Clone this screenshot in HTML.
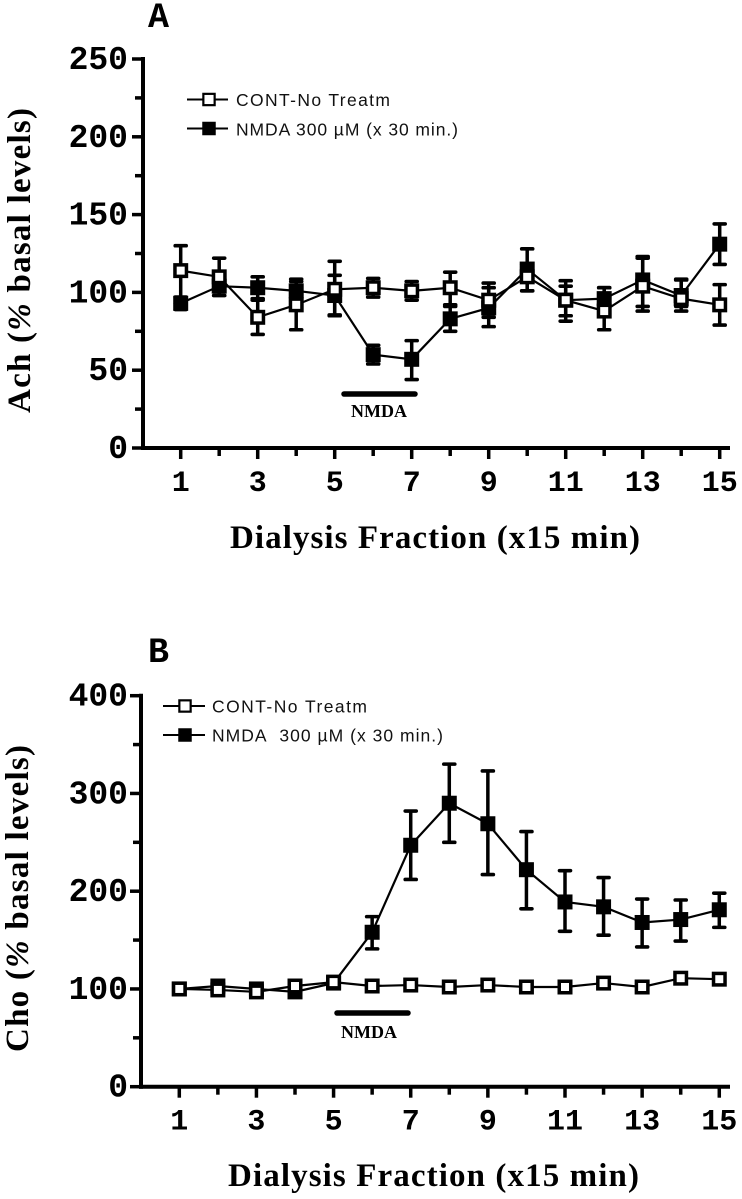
<!DOCTYPE html>
<html>
<head>
<meta charset="utf-8">
<title>Dialysis fraction charts</title>
<style>
html,body{margin:0;padding:0;background:#fff;}
svg{display:block;}
.tick-y{font-family:"Liberation Mono",monospace;font-weight:700;font-size:33px;fill:#000;}
.tick-x{font-family:"Liberation Mono",monospace;font-weight:700;font-size:30px;fill:#000;}
.title{font-family:"Liberation Serif",serif;font-weight:700;font-size:33px;fill:#000;}
.legend{font-family:"Liberation Sans",sans-serif;font-size:17.5px;fill:#111;}
.bar-label{font-family:"Liberation Serif",serif;font-weight:700;font-size:18px;fill:#000;}
.letter{font-family:"Liberation Mono",monospace;font-weight:700;font-size:35px;fill:#000;}
</style>
</head>
<body>
<svg id="figure" xmlns="http://www.w3.org/2000/svg" width="742" height="1199" viewBox="0 0 742 1199">
  <rect width="742" height="1199" fill="#fff"/>
  <text class="letter" x="148" y="27">A</text>
  <text class="title" transform="translate(30,413) rotate(-90)" textLength="305" lengthAdjust="spacing">Ach (<tspan font-style="italic">%</tspan> basal levels)</text>
  <text class="title" x="230" y="548" textLength="410" lengthAdjust="spacing">Dialysis Fraction (x15 min)</text>
  <text class="legend" x="236" y="106" textLength="154" lengthAdjust="spacing">CONT-No Treatm</text>
  <text class="legend" x="236" y="135.5" textLength="222" lengthAdjust="spacing">NMDA 300 µM (x 30 min.)</text>
  <text class="bar-label" x="379" y="417" text-anchor="middle">NMDA</text>

  <text class="letter" x="148" y="662">B</text>
  <text class="title" transform="translate(28,1052) rotate(-90)" textLength="307" lengthAdjust="spacing">Cho (<tspan font-style="italic">%</tspan> basal levels)</text>
  <text class="title" x="228" y="1186" textLength="411" lengthAdjust="spacing">Dialysis Fraction (x15 min)</text>
  <text class="legend" x="212" y="712.5" textLength="155" lengthAdjust="spacing">CONT-No Treatm</text>
  <text class="legend" x="212" y="741.5" textLength="231" lengthAdjust="spacing">NMDA&#160; 300 µM (x 30 min.)</text>
  <text class="bar-label" x="369" y="1038" text-anchor="middle">NMDA</text>
</svg>
<script>
var fractions = [1,2,3,4,5,6,7,8,9,10,11,12,13,14,15];
var xTickLabels = [1,3,5,7,9,11,13,15];

var aYTicks = [0,50,100,150,200,250];
var aYMinorTicks = [25,75,125,175,225];
var aContValues = [114,110,84,92,102,103,101,103,95,110,95,88,104,96,92];
var aContUpper  = [130,122,95,107,120,109,107,113,106,118,107.5,103,123,108.5,105];
var aContLower  = [93,98,73,76,85,97,95,92,84,101,85,76,88,88,79];
var aNmdaValues = [93,104,103,101,98,60,57,83,90,115,95,96,108,98,131];
var aNmdaUpper  = [97,110,110,108.5,111,66,69,91,103,128,104,103,122,108,144];
var aNmdaLower  = [89,98,96,94.5,85.5,54,44,75,78,101,81.5,89,91,91,118];

var bYTicks = [0,100,200,300,400];
var bYMinorTicks = [50,150,250,350];
var bContValues = [100,99,97,103,107,103,104,102,104,102,102,106,102,111,110];
var bNmdaValues = [100,103,100,97,106,158,247,290,269,222,189,184,168,171,181];
var bNmdaUpper  = [100,103,100,97,106,174,282,330,323,261,221,214,192,191,198];
var bNmdaLower  = [100,103,100,97,106,141,212,250,217,182,159,155,143,149,163];

var NS = 'http://www.w3.org/2000/svg';
var svg = document.getElementById('figure');

function make(tag, attrs) {
  var el = document.createElementNS(NS, tag);
  for (var k in attrs) { el.setAttribute(k, attrs[k]); }
  svg.appendChild(el);
  return el;
}

function seg(x1, y1, x2, y2, w, cap) {
  return make('line', {x1:x1, y1:y1, x2:x2, y2:y2, stroke:'#000', 'stroke-width':w, 'stroke-linecap':cap || 'butt'});
}

function marker(cx, cy, hollow, size, border) {
  var r = size / 2;
  if (hollow) {
    return make('rect', {x:cx-r+border/2, y:cy-r+border/2, width:size-border, height:size-border, fill:'#fff', stroke:'#000', 'stroke-width':border});
  }
  return make('rect', {x:cx-r, y:cy-r, width:size, height:size, fill:'#000'});
}

function drawPanel(p) {
  var xScale = function (v) { return p.x1 + (v - 1) * p.xStep; };
  var yScale = function (v) { return p.y0 - v * p.yUnit; };
  var el;

  el = seg(p.axisX, yScale(p.yMax) - 2, p.axisX, p.y0 + 2, 4);
  
  
  el = seg(p.axisX - 2, p.y0, p.xEnd, p.y0, 4);
  
  

  p.yTicks.forEach(function (v) {
    var t = seg(p.axisX - 11, yScale(v), p.axisX, yScale(v), 3.5);
    
    
    var lab = make('text', {x:128, y:yScale(v) + 10, 'text-anchor':'end', 'class':'tick-y'});
    lab.textContent = v;
    
    
  });
  p.yMinor.forEach(function (v) {
    var t = seg(p.axisX - 8, yScale(v), p.axisX, yScale(v), 3.5);
    
    
  });
  fractions.forEach(function (v) {
    var major = xTickLabels.indexOf(v) >= 0;
    var t = seg(xScale(v), p.y0, xScale(v), p.y0 + (major ? 11 : 8), 3.5);
    
    
  });
  xTickLabels.forEach(function (v) {
    var lab = make('text', {x:xScale(v), y:p.y0 + 43, 'text-anchor':'middle', 'class':'tick-x'});
    lab.textContent = v;
    
    
  });

  p.series.forEach(function (s) {
    var pts = s.values.map(function (v, i) { return xScale(fractions[i]) + ',' + yScale(v); }).join(' ');
    var line = make('polyline', {points:pts, fill:'none', stroke:'#000', 'stroke-width':2.2});
    
    
    if (s.upper) {
      s.values.forEach(function (v, i) {
        var x = xScale(fractions[i]);
        var stem = seg(x, yScale(s.upper[i]), x, yScale(s.lower[i]), 3.5);
        
        
        if (s.upper[i] !== s.lower[i]) {
          var c1 = seg(x - 5.5, yScale(s.upper[i]), x + 5.5, yScale(s.upper[i]), 3.6, 'round');
          
          
          var c2 = seg(x - 5.5, yScale(s.lower[i]), x + 5.5, yScale(s.lower[i]), 3.6, 'round');
          
          
        }
      });
    }
    s.values.forEach(function (v, i) {
      var m = marker(xScale(fractions[i]), yScale(v), s.hollow, 15, 3.5);
      
      
    });
  });

  var bar = seg(p.barX1, p.barY, p.barX2, p.barY, 5.5, 'round');
  
  

  var l1 = seg(p.legX1, p.legY1, p.legX2, p.legY1, 2);
  
  
  var m1 = marker(p.legMark, p.legY1, true, 13.5, 2.2);
  
  
  var l2 = seg(p.legX1, p.legY2, p.legX2, p.legY2, 2);
  
  
  var m2 = marker(p.legMark, p.legY2, false, 13.5, 2.2);
  
  
}

drawPanel({
  id:'panel-a', x1:180.7, xStep:38.5, y0:448, yUnit:1.556, yMax:250, axisX:143, xEnd:730,
  yTicks:aYTicks, yMinor:aYMinorTicks,
  barX1:344, barX2:415, barY:394,
  legX1:187, legX2:228, legMark:209, legY1:99.5, legY2:128.5,
  series:[
    {name:'nmda', values:aNmdaValues, upper:aNmdaUpper, lower:aNmdaLower, hollow:false},
    {name:'cont', values:aContValues, upper:aContUpper, lower:aContLower, hollow:true}
  ]
});

drawPanel({
  id:'panel-b', x1:179.3, xStep:38.57, y0:1086.7, yUnit:0.9775, yMax:400, axisX:141, xEnd:730,
  yTicks:bYTicks, yMinor:bYMinorTicks,
  barX1:337, barX2:408, barY:1013,
  legX1:163, legX2:205, legMark:185, legY1:706, legY2:735,
  series:[
    {name:'nmda', values:bNmdaValues, upper:bNmdaUpper, lower:bNmdaLower, hollow:false},
    {name:'cont', values:bContValues, hollow:true}
  ]
});
</script>
</body>
</html>
